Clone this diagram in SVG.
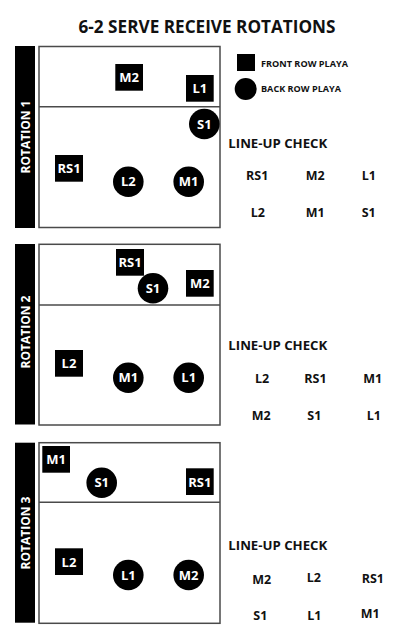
<svg xmlns="http://www.w3.org/2000/svg" width="414" height="640" viewBox="0 0 414 640">
<style>
text{font-family:"Open Sans","Liberation Sans",sans-serif;font-weight:bold}
.title{font-size:18px;fill:#111}
.bar{fill:#000}
.rot{font-size:12px;fill:#fff;text-anchor:middle}
.court{fill:#fff;stroke:#4a4a4a;stroke-width:1.5}
.div{stroke:#4a4a4a;stroke-width:1.5}
.sq{fill:#000}
.ci{fill:#000}
.lbl{font-size:13px;fill:#fff;text-anchor:middle}
.leg{font-size:8.5px;fill:#111}
.hdr{font-size:12.5px;fill:#111}
.lu{font-size:12.5px;fill:#111}
</style>
<rect width="414" height="640" fill="#fff"/>
<text class="title" x="207" y="33" text-anchor="middle" textLength="257" lengthAdjust="spacingAndGlyphs">6-2 SERVE RECEIVE ROTATIONS</text>

<g id="legend">
<rect class="sq" x="237" y="54" width="18" height="17"/>
<text class="leg" x="261" y="66.5" textLength="87" lengthAdjust="spacingAndGlyphs">FRONT ROW PLAYA</text>
<circle class="ci" cx="245.7" cy="89" r="11"/>
<text class="leg" x="261" y="92" textLength="80" lengthAdjust="spacingAndGlyphs">BACK ROW PLAYA</text>
</g>

<!-- Rotation 1 -->
<g id="rotation1">
<rect class="bar" x="15" y="46" width="20" height="182"/>
<text class="rot" transform="translate(29.5,137) rotate(-90)" x="0" y="0">ROTATION 1</text>
<rect class="court" x="39" y="46.5" width="181" height="181"/>
<line class="div" x1="39" y1="106.7" x2="220" y2="106.7"/>
</g>
<g id="r1-M2"><rect class="sq" x="115.3" y="64" width="27.7" height="26.7"/><text class="lbl" x="129.2" y="82.3">M2</text></g>
<g id="r1-L1"><rect class="sq" x="186" y="75" width="27.7" height="26.7"/><text class="lbl" x="199.8" y="93.3">L1</text></g>
<g id="r1-S1"><circle class="ci" cx="204.3" cy="124" r="15.3"/><text class="lbl" x="204.3" y="128.6">S1</text></g>
<g id="r1-RS1"><rect class="sq" x="55" y="155" width="28" height="26.7"/><text class="lbl" x="69" y="173.3">RS1</text></g>
<g id="r1-L2"><circle class="ci" cx="128.3" cy="181.7" r="15.3"/><text class="lbl" x="128.3" y="186.3">L2</text></g>
<g id="r1-M1"><circle class="ci" cx="188.7" cy="181.7" r="15.3"/><text class="lbl" x="188.7" y="186.3">M1</text></g>
<g id="r1-check">
<text class="hdr" x="228.3" y="147.7" textLength="99" lengthAdjust="spacingAndGlyphs">LINE-UP CHECK</text>
<text class="lu" x="246" y="180">RS1</text>
<text class="lu" x="305.7" y="180">M2</text>
<text class="lu" x="361.7" y="180">L1</text>
<text class="lu" x="250.7" y="217">L2</text>
<text class="lu" x="305.7" y="217">M1</text>
<text class="lu" x="361.7" y="217">S1</text>
</g>

<!-- Rotation 2 -->
<g id="rotation2">
<rect class="bar" x="15" y="244" width="20" height="180.5"/>
<text class="rot" transform="translate(29.5,332) rotate(-90)" x="0" y="0">ROTATION 2</text>
<rect class="court" x="39" y="244.3" width="181" height="180.7"/>
<line class="div" x1="39" y1="305" x2="220" y2="305"/>
</g>
<g id="r2-RS1"><rect class="sq" x="116" y="249" width="28" height="26.7"/><text class="lbl" x="130" y="267.3">RS1</text></g>
<g id="r2-S1"><circle class="ci" cx="153" cy="288.3" r="15.3"/><text class="lbl" x="153" y="292.9">S1</text></g>
<g id="r2-M2"><rect class="sq" x="186" y="270" width="27.7" height="26.7"/><text class="lbl" x="199.8" y="288.3">M2</text></g>
<g id="r2-L2"><rect class="sq" x="55" y="350" width="28" height="26.7"/><text class="lbl" x="69" y="368.3">L2</text></g>
<g id="r2-M1"><circle class="ci" cx="128.3" cy="377.7" r="15.3"/><text class="lbl" x="128.3" y="382.3">M1</text></g>
<g id="r2-L1"><circle class="ci" cx="188.7" cy="377.7" r="15.3"/><text class="lbl" x="188.7" y="382.3">L1</text></g>
<g id="r2-check">
<text class="hdr" x="228.3" y="350" textLength="99" lengthAdjust="spacingAndGlyphs">LINE-UP CHECK</text>
<text class="lu" x="255" y="382.7">L2</text>
<text class="lu" x="304.3" y="382.7">RS1</text>
<text class="lu" x="363.3" y="382.7">M1</text>
<text class="lu" x="251.7" y="420">M2</text>
<text class="lu" x="307.3" y="420">S1</text>
<text class="lu" x="366.7" y="420">L1</text>
</g>

<!-- Rotation 3 -->
<g id="rotation3">
<rect class="bar" x="15" y="442.7" width="20" height="180"/>
<text class="rot" transform="translate(29.5,533) rotate(-90)" x="0" y="0">ROTATION 3</text>
<rect class="court" x="39" y="442.7" width="181" height="180.6"/>
<line class="div" x1="39" y1="502.3" x2="220" y2="502.3"/>
</g>
<g id="r3-M1"><rect class="sq" x="42.3" y="446" width="27.7" height="26.7"/><text class="lbl" x="56.2" y="464.3">M1</text></g>
<g id="r3-S1"><circle class="ci" cx="101.7" cy="482.7" r="15.3"/><text class="lbl" x="101.7" y="487.3">S1</text></g>
<g id="r3-RS1"><rect class="sq" x="186" y="468.3" width="27.7" height="26.7"/><text class="lbl" x="199.8" y="486.6">RS1</text></g>
<g id="r3-L2"><rect class="sq" x="55" y="548.3" width="28" height="26.7"/><text class="lbl" x="69" y="566.6">L2</text></g>
<g id="r3-L1"><circle class="ci" cx="128.3" cy="575" r="15.3"/><text class="lbl" x="128.3" y="579.6">L1</text></g>
<g id="r3-M2"><circle class="ci" cx="188.7" cy="575" r="15.3"/><text class="lbl" x="188.7" y="579.6">M2</text></g>
<g id="r3-check">
<text class="hdr" x="228.3" y="550" textLength="99" lengthAdjust="spacingAndGlyphs">LINE-UP CHECK</text>
<text class="lu" x="252.3" y="584">M2</text>
<text class="lu" x="306.7" y="581.7">L2</text>
<text class="lu" x="361.7" y="583">RS1</text>
<text class="lu" x="253.3" y="620">S1</text>
<text class="lu" x="307.3" y="620">L1</text>
<text class="lu" x="360.7" y="618.3">M1</text>
</g>
</svg>
